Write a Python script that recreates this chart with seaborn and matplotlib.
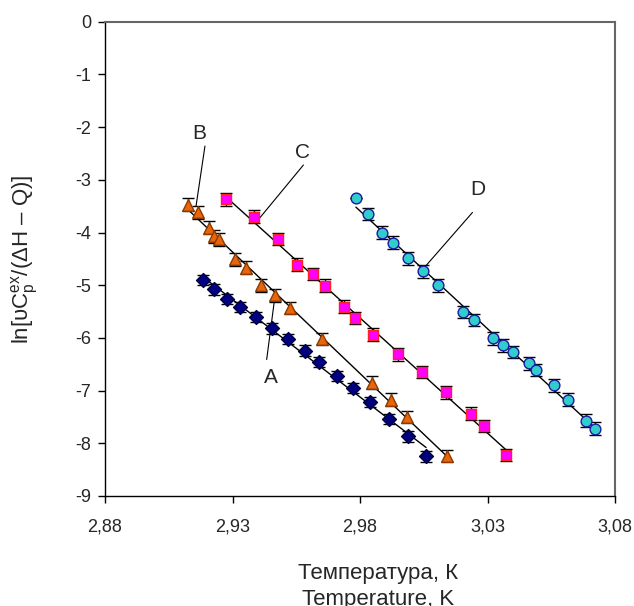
import matplotlib
matplotlib.use('Agg')
import matplotlib.pyplot as plt
import seaborn as sns
from matplotlib.ticker import FuncFormatter, MultipleLocator

# series A (diamonds)
temp_a = [2.9185, 2.9229, 2.9280, 2.9329, 2.9392, 2.9455, 2.9516, 2.9584,
          2.9640, 2.9709, 2.9773, 2.9839, 2.9915, 2.9989, 3.0059]
ln_a = [-4.90, -5.08, -5.26, -5.41, -5.60, -5.82, -6.02, -6.24,
        -6.46, -6.72, -6.95, -7.22, -7.54, -7.87, -8.25]
err_a = [0.10] * 15

# series B (triangles)
temp_b = [2.9127, 2.9166, 2.9209, 2.9229, 2.9247, 2.9311, 2.9353, 2.9411,
          2.9468, 2.9525, 2.9650, 2.9846, 2.9920, 2.9983, 3.0142]
ln_b = [-3.47, -3.62, -3.91, -4.07, -4.13, -4.51, -4.67, -5.00,
        -5.19, -5.43, -6.02, -6.85, -7.17, -7.50, -8.24]
err_b = [0.12] * 15

# series C (squares)
temp_c = [2.9275, 2.9384, 2.9480, 2.9553, 2.9616, 2.9661, 2.9737, 2.9780,
          2.9852, 2.9948, 3.0042, 3.0137, 3.0235, 3.0286, 3.0373]
ln_c = [-3.37, -3.70, -4.12, -4.61, -4.79, -5.01, -5.41, -5.62,
        -5.94, -6.31, -6.65, -7.03, -7.44, -7.67, -8.22]
err_c = [0.12] * 15

# series D (circles)
temp_d = [2.9784, 2.9833, 2.9885, 2.9928, 2.9987, 3.0048, 3.0107, 3.0203,
          3.0247, 3.0320, 3.0362, 3.0399, 3.0462, 3.0489, 3.0561, 3.0617,
          3.0685, 3.0722]
ln_d = [-3.35, -3.65, -4.00, -4.19, -4.49, -4.74, -5.00, -5.51,
        -5.66, -6.01, -6.14, -6.27, -6.48, -6.61, -6.90, -7.17,
        -7.57, -7.72]
err_d = [0.0] + [0.12] * 17

x_ticks = [2.88, 2.93, 2.98, 3.03, 3.08]

sns.set_style('ticks')
plt.rcParams['font.family'] = ['Liberation Sans', 'DejaVu Sans']
plt.rcParams['mathtext.fontset'] = 'custom'
plt.rcParams['mathtext.rm'] = 'Liberation Sans'
plt.rcParams['mathtext.default'] = 'regular'
plt.rcParams['axes.unicode_minus'] = False

fig = plt.figure(figsize=(6.34, 6.06), dpi=100)
ax = fig.add_axes([105 / 634, 1 - 496 / 606, 510 / 634, (496 - 21.7) / 606])

series = [
    (temp_a, ln_a, err_a, 'D', 50, '#000080', '#000040'),
    (temp_b, ln_b, err_b, '^', 70, '#E8650C', '#8A3A00'),
    (temp_c, ln_c, err_c, 's', 60, '#FF00FF', '#FF2020'),
    (temp_d, ln_d, err_d, 'o', 60, '#33CCCC', '#1A1AA0'),
]

for x, y, e, mk, sz, face, edge in series:
    sns.regplot(x=x, y=y, ax=ax, scatter=False, ci=None, truncate=True,
                color='black', line_kws={'lw': 1.0, 'zorder': 2})
    ax.errorbar(x, y, yerr=e, fmt='none', ecolor='black', elinewidth=1,
                capsize=4, capthick=1, zorder=3)
    sns.scatterplot(x=x, y=y, ax=ax, marker=mk, s=sz, color=face,
                    edgecolor=edge, linewidth=1, zorder=4)

# labels with leader lines
ax.text(2.9170, -2.13, 'B', fontsize=15, ha='center', va='center')
ax.plot([2.9192, 2.9157], [-2.36, -3.50], color='black', lw=0.8)
ax.text(2.9576, -2.49, 'C', fontsize=15, ha='center', va='center')
ax.plot([2.9578, 2.9404], [-2.72, -3.74], color='black', lw=0.8)
ax.text(3.0261, -3.18, 'D', fontsize=15, ha='center', va='center')
ax.plot([3.0241, 3.0055], [-3.62, -4.65], color='black', lw=0.8)
ax.text(2.9450, -6.76, 'A', fontsize=15, ha='center', va='center')
ax.plot([2.9434, 2.9467], [-6.41, -5.19], color='black', lw=0.8)

ax.set_xlim(2.88, 3.08)
ax.set_ylim(-9, 0)
ax.set_xticks(x_ticks)
ax.yaxis.set_major_locator(MultipleLocator(1))
ax.xaxis.set_major_formatter(FuncFormatter(lambda v, p: f'{v:.2f}'.replace('.', ',')))
ax.yaxis.set_major_formatter(FuncFormatter(lambda v, p: f'{v:.0f}'))
ax.tick_params(axis='x', direction='out', length=5, width=1, pad=11,
               labelsize=13, color='black')
ax.tick_params(axis='y', direction='out', length=5, width=1, pad=5,
               labelsize=13, color='black')

for side in ['left', 'bottom']:
    ax.spines[side].set_color('black')
    ax.spines[side].set_linewidth(1)
for side in ['top', 'right']:
    ax.spines[side].set_visible(True)
    ax.spines[side].set_color('#666666')
    ax.spines[side].set_linewidth(1.5)

ax.set_xlabel('')
ax.set_ylabel(r'ln[υC$_p^{ex}$/(ΔH – Q)]', fontsize=16)
ax.yaxis.set_label_coords(-0.128, 0.5)

fig.text(378 / 634, 1 - 574 / 606, 'Температура, К', ha='center', va='center', fontsize=16)
fig.text(378 / 634, 1 - 599 / 606, 'Temperature, K', ha='center', va='center', fontsize=16)

fig.savefig('out.png', dpi=100)
